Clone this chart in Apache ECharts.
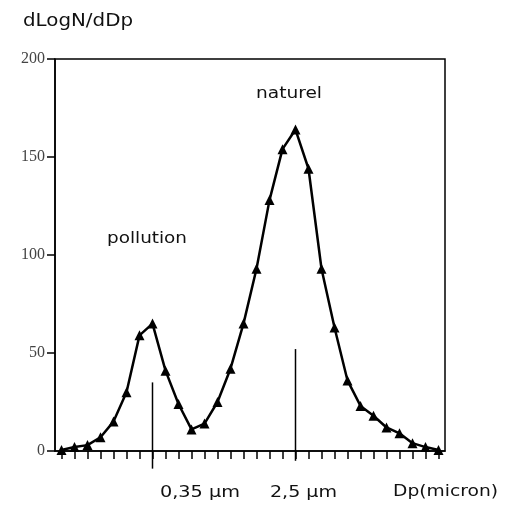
<!DOCTYPE html>
<html><head><meta charset="utf-8">
<script src="https://cdn.jsdelivr.net/npm/echarts@6/dist/echarts.min.js"></script>
<style>html,body{margin:0;padding:0;background:#fff}#c{width:505px;height:507px}</style>
</head><body><div id="c"></div>
<script>
// Size classes (index along the Dp axis, log-spaced)
const categories = Array.from({length: 30}, (_, i) => String(i));
// dLogN/dDp values
const values = [0.5, 2, 3, 7, 15, 30, 59, 65, 41, 24, 11, 14, 25, 42, 65, 93, 128, 154, 164, 144, 93, 63, 36, 23, 18, 12, 9, 4, 2, 0.5];
const yTicks = [0, 50, 100, 150, 200];
// Mode markers: [category index, top value, bottom value]
const modeMarkers = [[7, 35, -9], [18, 52, -5]];
const yTitle = 'dLogN/dDp';
const xTitle = 'Dp(micron)';
const modeLabels = ['0,35 µm', '2,5 µm'];
const peakLabels = ['pollution', 'naturel'];

const chart = echarts.init(document.getElementById('c'), null, {renderer: 'canvas'});
const sans = 'DejaVu Sans';
function txt(x, y, text, size, w) {
  return {type: 'text', x: x, y: y,
    style: {text: text, font: size + 'px "' + sans + '"', fill: '#111', textVerticalAlign: 'top', verticalAlign: 'top'},
    __w: w};
}
const g = [
  txt(23, 13, yTitle, 17, 110),
  txt(107, 231, peakLabels[0], 16, 80),
  txt(256, 86, peakLabels[1], 16, 66),
  txt(160, 485, modeLabels[0], 16, 80),
  txt(270, 485, modeLabels[1], 16, 67),
  txt(393, 484, xTitle, 16, 105)
];
// stretch each text to the width it has in the figure
g.forEach(el => {
  const r = echarts.format.getTextRect ? null : null;
  const tmp = new echarts.graphic.Text({style: {text: el.style.text, font: el.style.font}});
  const bw = tmp.getBoundingRect().width;
  el.scaleX = el.__w / bw;
  delete el.__w;
});
chart.setOption({
  animation: false,
  backgroundColor: '#fff',
  grid: {left: 55, right: 60, top: 59, bottom: 56, show: true, borderColor: '#000', borderWidth: 1.5, backgroundColor: 'transparent'},
  xAxis: {
    type: 'category', data: categories, boundaryGap: true,
    axisLine: {lineStyle: {color: '#000', width: 1.5}},
    axisTick: {show: true, alignWithLabel: true, interval: 0, inside: false, length: 8, lineStyle: {color: '#000', width: 1.5}},
    axisLabel: {show: false, interval: 0}
  },
  yAxis: {
    type: 'value', min: yTicks[0], max: yTicks[yTicks.length - 1], interval: 50,
    splitLine: {show: false},
    axisLine: {show: true, lineStyle: {color: '#000', width: 1.5}},
    axisTick: {show: true, length: 8, lineStyle: {color: '#000', width: 1.5}},
    axisLabel: {fontFamily: 'Liberation Serif', fontSize: 16, color: '#444', margin: 10}
  },
  series: [{
    type: 'custom', clip: false, silent: true, z: 1,
    data: modeMarkers,
    renderItem: function (params, api) {
      const p1 = api.coord([api.value(0), api.value(1)]);
      const p2 = api.coord([api.value(0), api.value(2)]);
      return {type: 'line', shape: {x1: p1[0], y1: p1[1], x2: p2[0], y2: p2[1]}, style: {stroke: '#000', lineWidth: 1.5}};
    }
  }, {
    type: 'line', data: values, symbol: 'triangle', symbolSize: 10,
    showSymbol: true, showAllSymbol: true, z: 3,
    lineStyle: {color: '#000', width: 2.5},
    itemStyle: {color: '#000'},
    clip: false
  }],
  graphic: g
});
</script></body></html>
